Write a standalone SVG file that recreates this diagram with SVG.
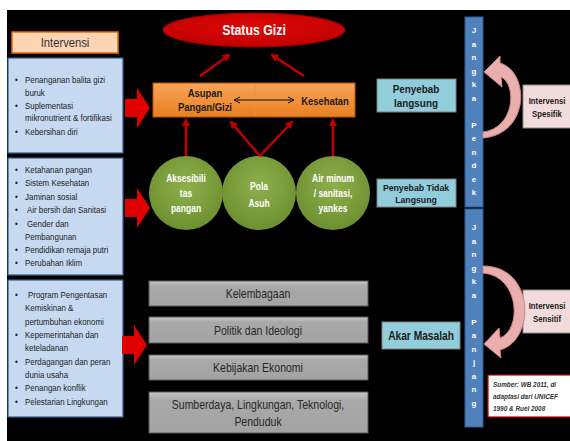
<svg xmlns="http://www.w3.org/2000/svg" width="570" height="441" viewBox="0 0 570 441">
<defs>
<style>
.bl{fill:#C6D9F1;stroke:#385D8A;stroke-width:1.2}
.bt{font-family:"Liberation Sans",Arial,sans-serif;font-size:9px;fill:#222}
.gb{fill:url(#gg);stroke:#5a5a5a;stroke-width:1}
.gt{font-family:"Liberation Sans",Arial,sans-serif;font-size:12.5px;fill:#262626;text-anchor:middle}
.ct{font-family:"Liberation Sans",Arial,sans-serif;font-size:10px;font-weight:bold;fill:#fff;text-anchor:middle}
.lb{fill:#92CDDC;stroke:#7f7f7f;stroke-width:1}
.lt{font-family:"Liberation Sans",Arial,sans-serif;font-weight:bold;fill:#1a1a1a;text-anchor:middle}
.pk{fill:#F2DCDB;stroke:#8c8c8c;stroke-width:1}
.vt{font-family:"Liberation Sans",Arial,sans-serif;font-size:8px;font-weight:bold;fill:#fff;text-anchor:middle}
.ra{stroke:#C00000;stroke-width:2.5;fill:none;marker-end:url(#rh)}
.ba{fill:#E00000}
.ca{fill:#E8AFAE;stroke:#D08584;stroke-width:1}
</style>
<marker id="rh" markerWidth="8" markerHeight="8" refX="6" refY="4" orient="auto" markerUnits="userSpaceOnUse" viewBox="0 0 8 8">
<path d="M0,0 L8,4 L0,8 Z" fill="#C00000"/>
</marker>
<marker id="kh" markerWidth="8" markerHeight="8" refX="7" refY="4" orient="auto-start-reverse" markerUnits="userSpaceOnUse" viewBox="0 0 8 8">
<path d="M1,1 L7,4 L1,7" fill="none" stroke="#111" stroke-width="1"/>
</marker>
<linearGradient id="og" x1="0" y1="0" x2="0" y2="1">
<stop offset="0" stop-color="#F9A35A"/><stop offset="1" stop-color="#E8801F"/>
</linearGradient>
<radialGradient id="cg" cx="0.5" cy="0.4" r="0.6">
<stop offset="0" stop-color="#8DB04C"/><stop offset="1" stop-color="#6E8F30"/>
</radialGradient>
<linearGradient id="gg" x1="0" y1="0" x2="0" y2="1">
<stop offset="0" stop-color="#C8C8C8"/><stop offset="0.2" stop-color="#A9A9A9"/><stop offset="1" stop-color="#A3A3A3"/>
</linearGradient>
<radialGradient id="eg" cx="0.5" cy="0.4" r="0.6">
<stop offset="0" stop-color="#E00808"/><stop offset="1" stop-color="#C00000"/>
</radialGradient>
</defs>
<rect x="0" y="0" width="570" height="441" fill="#fff"/>
<rect x="7" y="10" width="563" height="431" fill="#000"/>

<g id="intervensi">
<rect x="12" y="32" width="106" height="21" fill="#FCD5B5" stroke="#E46C0A" stroke-width="1.5"/>
<text transform="translate(65,0) scale(0.9,1)" x="0" y="47" text-anchor="middle" font-family="Liberation Sans,Arial,sans-serif" font-size="12.5" fill="#333">Intervensi</text>
</g>

<g id="box1">
<rect class="bl" x="8" y="58" width="115" height="95"/>
<text class="bt" transform="translate(15,0) scale(0.88,1)"><tspan x="0" y="83">•</tspan><tspan x="11.4" y="83">Penanganan  balita gizi</tspan><tspan x="11.4" y="96">buruk</tspan><tspan x="0" y="109">•</tspan><tspan x="11.4" y="109">Suplementasi</tspan><tspan x="11.4" y="121">mikronutrient &amp; fortifikasi</tspan><tspan x="0" y="135">•</tspan><tspan x="11.4" y="135">Kebersihan diri</tspan></text>
</g>

<g id="box2">
<rect class="bl" x="8" y="158" width="115" height="117"/>
<text class="bt" transform="translate(15,0) scale(0.88,1)"><tspan x="0" y="173">•</tspan><tspan x="11.4" y="173">Ketahanan pangan</tspan><tspan x="0" y="186">•</tspan><tspan x="11.4" y="186">Sistem Kesehatan</tspan><tspan x="0" y="200">•</tspan><tspan x="11.4" y="200">Jaminan sosial</tspan><tspan x="0" y="213">•</tspan><tspan x="13.6" y="213">Air bersih dan Sanitasi</tspan><tspan x="0" y="227">•</tspan><tspan x="13.6" y="227">Gender dan</tspan><tspan x="11.4" y="240">Pembangunan</tspan><tspan x="0" y="253">•</tspan><tspan x="11.4" y="253">Pendidikan remaja putri</tspan><tspan x="0" y="266">•</tspan><tspan x="11.4" y="266">Perubahan Iklim</tspan></text>
</g>

<g id="box3">
<rect class="bl" x="8" y="280" width="115" height="137"/>
<text class="bt" transform="translate(15,0) scale(0.88,1)"><tspan x="0" y="298">•</tspan><tspan x="14.8" y="298">Program Pengentasan</tspan><tspan x="11.4" y="311">Kemiskinan &amp;</tspan><tspan x="11.4" y="325">pertumbuhan ekonomi</tspan><tspan x="0" y="338">•</tspan><tspan x="11.4" y="338">Kepemerintahan  dan</tspan><tspan x="11.4" y="351">keteladanan</tspan><tspan x="0" y="365">•</tspan><tspan x="11.4" y="365">Perdagangan  dan peran</tspan><tspan x="11.4" y="378">dunia usaha</tspan><tspan x="0" y="391">•</tspan><tspan x="11.4" y="391">Penangan konflik</tspan><tspan x="0" y="405">•</tspan><tspan x="11.4" y="405">Pelestarian Lingkungan</tspan></text>
</g>

<g id="status-gizi">
<ellipse cx="254" cy="30" rx="91" ry="17" fill="url(#eg)" stroke="#A00000" stroke-width="1"/>
<text transform="translate(254,0) scale(0.85,1)" x="0" y="35" text-anchor="middle" font-family="Liberation Sans,Arial,sans-serif" font-size="14.5" font-weight="bold" fill="#fff">Status Gizi</text>
</g>

<g id="asupan-kesehatan">
<rect x="153" y="83" width="202" height="34" fill="url(#og)" stroke="#B65708" stroke-width="1"/>
<line x1="255" y1="84" x2="255" y2="116" stroke="#E8903F" stroke-width="1"/>
<text class="lt" font-size="10.5" transform="translate(205,0) scale(0.9,1)"><tspan x="0" y="97">Asupan</tspan><tspan x="0" y="111">Pangan/Gizi</tspan></text>
<text class="lt" font-size="10.5" transform="translate(325,0) scale(0.9,1)" x="0" y="105">Kesehatan</text>
</g>

<g id="aksesibilitas">
<circle cx="186" cy="193" r="37" fill="url(#cg)"/>
<text class="ct" transform="translate(186,0) scale(0.85,1)"><tspan x="0" y="182">Aksesibili</tspan><tspan x="0" y="197">tas</tspan><tspan x="0" y="212">pangan</tspan></text>
</g>
<g id="pola-asuh">
<circle cx="259" cy="193" r="37" fill="url(#cg)"/>
<text class="ct" font-size="13" transform="translate(259,0) scale(0.85,1)"><tspan x="0" y="190">Pola</tspan><tspan x="0" y="207">Asuh</tspan></text>
</g>
<g id="air-minum">
<circle cx="333" cy="193" r="37" fill="url(#cg)"/>
<text class="ct" transform="translate(333,0) scale(0.85,1)"><tspan x="0" y="182">Air minum</tspan><tspan x="0" y="197">/ sanitasi,</tspan><tspan x="0" y="212">yankes</tspan></text>
</g>

<g id="kelembagaan"><rect class="gb" x="149" y="281" width="219" height="25"/><text class="gt" transform="translate(258,0) scale(0.84,1)" x="0" y="298">Kelembagaan</text></g>
<g id="politik"><rect class="gb" x="149" y="317" width="219" height="26"/><text class="gt" transform="translate(258,0) scale(0.84,1)" x="0" y="335">Politik dan Ideologi</text></g>
<g id="kebijakan"><rect class="gb" x="149" y="355" width="219" height="25"/><text class="gt" transform="translate(258,0) scale(0.84,1)" x="0" y="372">Kebijakan  Ekonomi</text></g>
<g id="sumberdaya"><rect class="gb" x="149" y="392" width="219" height="41"/><text class="gt" transform="translate(258,0) scale(0.84,1)"><tspan x="0" y="409">Sumberdaya, Lingkungan, Teknologi,</tspan><tspan x="0" y="426">Penduduk</tspan></text></g>

<g id="penyebab-langsung"><rect class="lb" x="377" y="79" width="79" height="33"/><text class="lt" font-size="11" transform="translate(416,0) scale(0.9,1)"><tspan x="0" y="93">Penyebab</tspan><tspan x="0" y="107">langsung</tspan></text></g>
<g id="penyebab-tidak-langsung"><rect class="lb" x="377" y="179" width="79" height="28"/><text class="lt" font-size="9.5" transform="translate(416,0) scale(0.92,1)"><tspan x="0" y="191">Penyebab Tidak</tspan><tspan x="0" y="203">Langsung</tspan></text></g>
<g id="akar-masalah"><rect class="lb" x="382" y="322" width="78" height="27"/><text class="lt" font-size="12" transform="translate(421,0) scale(0.85,1)" x="0" y="340">Akar Masalah</text></g>

<g id="jangka-pendek">
<rect x="465" y="17" width="18" height="190" fill="#4F81BD" stroke="#385D8A" stroke-width="1"/>
<text class="vt"><tspan x="474" y="33">J</tspan><tspan x="474" y="47">a</tspan><tspan x="474" y="60">n</tspan><tspan x="474" y="74">g</tspan><tspan x="474" y="87">k</tspan><tspan x="474" y="101">a</tspan><tspan x="474" y="128">P</tspan><tspan x="474" y="141">e</tspan><tspan x="474" y="155">n</tspan><tspan x="474" y="168">d</tspan><tspan x="474" y="182">e</tspan><tspan x="474" y="195">k</tspan></text>
</g>
<g id="jangka-panjang">
<rect x="465" y="209" width="18" height="218" fill="#4F81BD" stroke="#385D8A" stroke-width="1"/>
<text class="vt"><tspan x="474" y="230">J</tspan><tspan x="474" y="244">a</tspan><tspan x="474" y="257">n</tspan><tspan x="474" y="271">g</tspan><tspan x="474" y="284">k</tspan><tspan x="474" y="298">a</tspan><tspan x="474" y="325">P</tspan><tspan x="474" y="338">a</tspan><tspan x="474" y="352">n</tspan><tspan x="474" y="365">j</tspan><tspan x="474" y="379">a</tspan><tspan x="474" y="392">n</tspan><tspan x="474" y="406">g</tspan></text>
</g>

<g id="intervensi-spesifik"><rect class="pk" x="523" y="85" width="50" height="43"/><text class="lt" font-size="9.5" transform="translate(547,0) scale(0.82,1)"><tspan x="0" y="104">Intervensi</tspan><tspan x="0" y="117">Spesifik</tspan></text></g>
<g id="intervensi-sensitif"><rect class="pk" x="523" y="290" width="50" height="43"/><text class="lt" font-size="9.5" transform="translate(547,0) scale(0.82,1)"><tspan x="0" y="309">Intervensi</tspan><tspan x="0" y="322">Sensitif</tspan></text></g>

<g id="sumber">
<rect x="488" y="375" width="85" height="42" fill="#fff" stroke="#C00000" stroke-width="1.2"/>
<text transform="translate(493,0) scale(0.8,1)" font-family="Liberation Sans,Arial,sans-serif" font-size="8" font-style="italic" font-weight="bold" fill="#333"><tspan x="0" y="387">Sumber: WB 2011, di</tspan><tspan x="0" y="399">adaptasi dari UNICEF</tspan><tspan x="0" y="411">1990 &amp; Ruel 2008</tspan></text>
</g>

<g id="connectors">
<path class="ba" d="M125,99 L137,99 L137,88 L150,108 L137,128 L137,117 L125,117 Z"/>
<path class="ba" d="M125,199 L137,199 L137,188 L150,208 L137,228 L137,217 L125,217 Z"/>
<path class="ba" d="M122,336 L134,336 L134,325 L147,345 L134,365 L134,354 L122,354 Z"/>
<line class="ra" x1="200" y1="76" x2="229" y2="55"/>
<line class="ra" x1="304" y1="76" x2="272" y2="55"/>
<line class="ra" x1="186" y1="156" x2="186" y2="120"/>
<line class="ra" x1="333" y1="156" x2="333" y2="120"/>
<line class="ra" x1="260" y1="156" x2="231" y2="122"/>
<line class="ra" x1="260" y1="156" x2="292" y2="122"/>
<line x1="234" y1="100" x2="294" y2="100" stroke="#111" stroke-width="1" marker-start="url(#kh)" marker-end="url(#kh)"/>
<path class="ca" d="M483,138 C530,134 530,72 500,63 L500,56 L484,72 L502,87 L501,77 C517,84 515,128 483,132 Z"/>
<path class="ca" d="M483,266 C535,266 536,340 500,350 L501,358 L484,344 L499,328 L500,338 C522,330 520,276 483,273 Z"/>
</g>
</svg>
